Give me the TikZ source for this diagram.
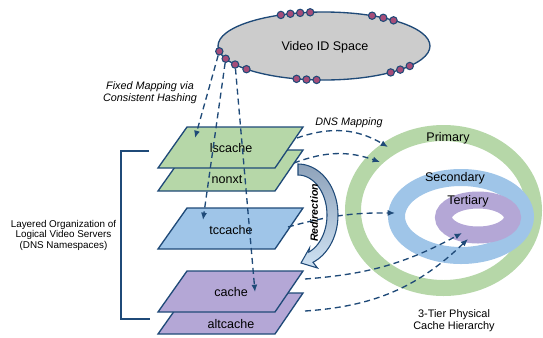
\documentclass[tikz,border=0pt]{standalone}
\usepackage{fontspec}
\setmainfont{Liberation Sans}
\usetikzlibrary{arrows.meta,calc,shapes.geometric}
\definecolor{navy}{HTML}{1F4A78}
\definecolor{lgreen}{HTML}{B6D7A8}
\definecolor{lblue}{HTML}{9FC5E8}
\definecolor{lpurple}{HTML}{B4A7D6}
\definecolor{lgray}{HTML}{CCCCCC}
\definecolor{dotc}{HTML}{A64D79}
\definecolor{arrtop}{HTML}{8EA2BA}
\definecolor{arrbot}{HTML}{CFE2F3}
\newcommand\mylayer[2]{\filldraw[layerbox, fill=#2] (187,#1) -- (303,#1) -- (275,#1+41) -- (158,#1+41) -- cycle;}
\begin{document}
\begin{tikzpicture}[x=0.75pt,y=-0.75pt,
  layerbox/.style={draw=navy, line width=1pt},
  lbl/.style={font=\fontsize{9.4pt}{11pt}\selectfont, inner sep=0pt},
  itl/.style={font=\fontsize{8.1pt}{9pt}\selectfont\itshape, align=center, inner sep=0pt},
  vdot/.style={circle, draw=navy, fill=dotc, line width=0.8pt, minimum size=5.5pt, inner sep=0pt},
  conn/.style={draw=navy, line width=1pt, dash pattern=on 4.5pt off 3pt, -{Latex[length=5.5pt,width=4.5pt]}},
]
\useasboundingbox (0,0) rectangle (543,337);

% rings
\draw[lgreen, line width=12pt] (443.5,210.5) ellipse [x radius=90.5, y radius=77.5];
\draw[lblue, line width=12.75pt] (461,216.5) ellipse [x radius=64.5, y radius=39];
\draw[lpurple, line width=12.75pt] (478,217.5) ellipse [x radius=34.5, y radius=17.5];
\node[lbl] (prim) at (448,138) {Primary};
\node[lbl] (sec) at (455,178) {Secondary};
\node[lbl] (tert) at (468,201) {Tertiary};
\node[font=\fontsize{8.2pt}{9pt}\selectfont, align=center, inner sep=0pt] (tier) at (454,321) {3-Tier Physical\\Cache Hierarchy};

% Video ID space
\node[ellipse, draw=navy, fill=lgray, line width=1pt, minimum width=212*0.75pt, minimum height=68*0.75pt, inner sep=0pt] (vid) at (324,46) {};
\node[lbl] (vidt) at (325,47) {Video ID Space};
\foreach \t [count=\i] in {-114,-108.5,-103,-97.5,-63,-56,-49,51,44,36,105,99.5,94,171,158,147,137}
  \node[vdot] (b\i) at ({324+106*cos(\t)},{46+34*sin(\t)}) {};

% layers
\mylayer{150}{lgreen}
\mylayer{127}{lgreen}
\mylayer{208}{lblue}
\mylayer{293}{lpurple}
\mylayer{271}{lpurple}
\node[lbl] (ls) at (231,148) {lscache};
\node[lbl] (nx) at (227,180) {nonxt};
\node[lbl] (tc) at (231,230) {tccache};
\node[lbl] (ca) at (231,292) {cache};
\node[lbl] (alt) at (231,324) {altcache};

% bracket
\coordinate (brt) at (149,151);
\coordinate (brb) at (150,319);
\draw[navy, line width=1pt] (brt) -- (121,151) -- (121,319) -- (brb);
\node[font=\fontsize{7.4pt}{7.9pt}\selectfont, align=center, inner sep=0pt] (org) at (63.5,235) {Layered Organization of\\Logical Video Servers\\(DNS Namespaces)};

% labels
\node[itl] (fixed) at (150,93) {Fixed Mapping via\\Consistent Hashing};
\node[itl] (dns) at (349,123) {DNS Mapping};

% fixed mapping connectors
\coordinate (ls-in) at (195,138);
\coordinate (tc-in) at (203,220);
\coordinate (ca-in) at (255,292);
\draw[conn] (b14) -- (ls-in);
\draw[conn] (b15) -- (tc-in);
\draw[conn] (b16) -- (ca-in);

% DNS connectors
\coordinate (ls-out) at (297,138);
\coordinate (nx-out) at (294,163);
\coordinate (tc-out) at (288,227);
\coordinate (ca-out) at (305,279);
\coordinate (alt-out) at (305,311);
\coordinate (g1) at (388,147);
\coordinate (g2) at (380,162);
\coordinate (s1) at (395,213);
\coordinate (t1) at (462,233);
\coordinate (t2) at (468,239);
\draw[conn] (ls-out) to[bend left=25] (g1);
\draw[conn] (nx-out) to[bend left=20] (g2);
\draw[conn] (tc-out) to[bend left=8] (s1);
\draw[conn] (ca-out) to[bend right=12] (t1);
\draw[conn] (alt-out) to[bend right=20] (t2);

% redirection arrow
\path[draw=navy, line width=0.8pt, top color=arrtop, bottom color=arrbot]
  plot[domain=-90:68, samples=40] ({298+40*cos(\x)},{215+51*sin(\x)})
  -- (317.5,268) -- (301,263) -- (309.5,248)
  -- plot[domain=68:-90, samples=40] ({298+29*cos(\x)},{215+40*sin(\x)}) -- cycle;
\node[rotate=90, font=\fontsize{7.9pt}{9pt}\selectfont\bfseries\itshape, inner sep=0pt] (redir) at (314,213) {Redirection};
\end{tikzpicture}
\end{document}
